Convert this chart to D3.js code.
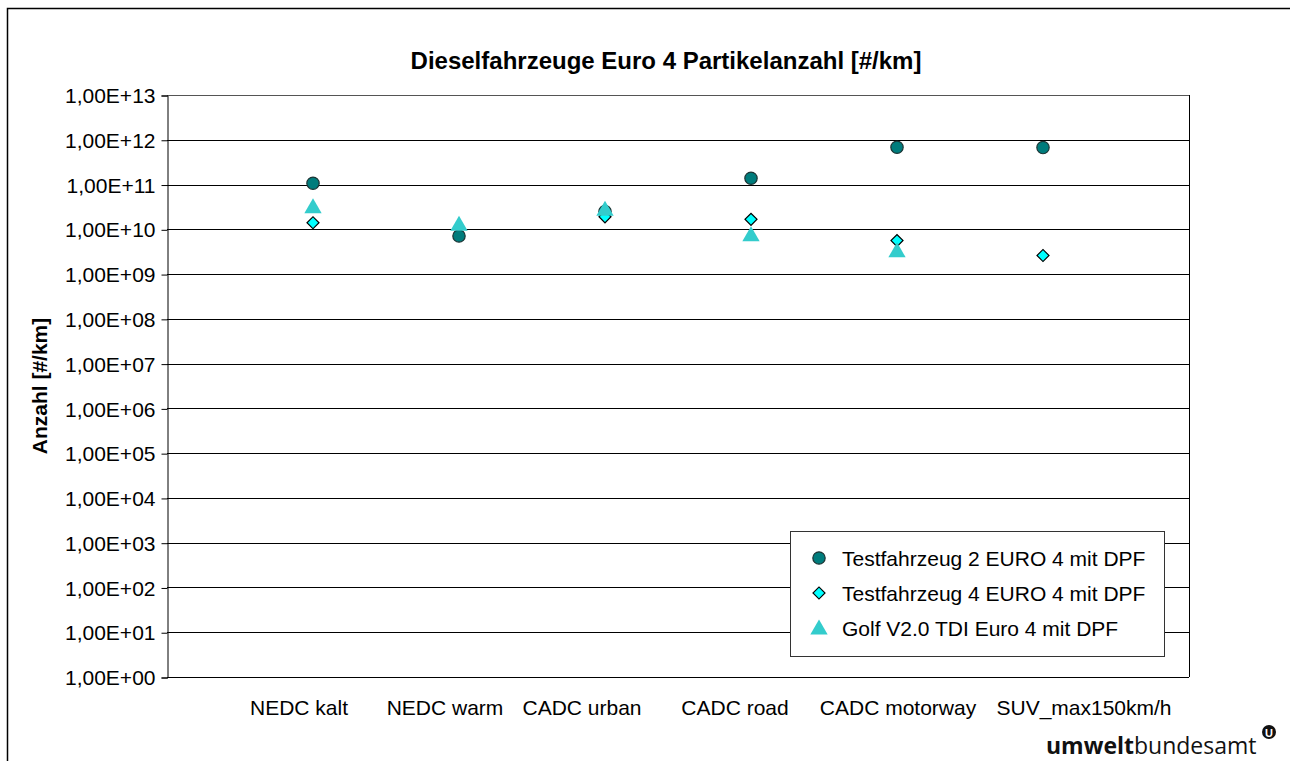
<!DOCTYPE html>
<html>
<head>
<meta charset="utf-8">
<script src="https://cdn.jsdelivr.net/npm/d3@7"></script>
<style>
  body { margin: 0; background: #fff; }
  svg { display: block; font-family: Arial, "Liberation Sans", sans-serif; }
</style>
</head>
<body>
<div id="chart"></div>
<script>
// data
const categories = ['NEDC kalt', 'NEDC warm', 'CADC urban', 'CADC road', 'CADC motorway', 'SUV_max150km/h'];
const seriesNames = ['Testfahrzeug 2 EURO 4 mit DPF', 'Testfahrzeug 4 EURO 4 mit DPF', 'Golf V2.0 TDI Euro 4 mit DPF'];
const testfahrzeug2 = [1.07e11, 7.1e9, 2.5e10, 1.38e11, 6.8e11, 6.7e11];
const testfahrzeug4 = [1.4e10, null, 1.9e10, 1.67e10, 5.6e9, 2.6e9];
const golfV20 = [3.2e10, 1.3e10, 2.8e10, 7.6e9, 3.3e9, null];
const yTicks = [1e0, 1e1, 1e2, 1e3, 1e4, 1e5, 1e6, 1e7, 1e8, 1e9, 1e10, 1e11, 1e12, 1e13];

// label nudges (Excel spreads the category labels unevenly)
const catLabelDx = [-14, -14, -23, -16, 1, 41];

const width = 1290, height = 761;
const margin = {top: 95, right: 101, bottom: 84, left: 167};

const svg = d3.select('#chart').append('svg')
  .attr('width', width)
  .attr('height', height);

// outer frame
svg.append('rect')
  .attr('x', 7.5).attr('y', 8.5)
  .attr('width', 1300).attr('height', 800)
  .attr('fill', 'none')
  .attr('stroke', '#000')
  .attr('stroke-width', 1.5);

const x = d3.scalePoint()
  .domain(categories)
  .range([margin.left, width - margin.right])
  .padding(1);

const y = d3.scaleLog()
  .domain([1, 1e13])
  .range([height - margin.bottom, margin.top]);

// grid lines
svg.append('g')
  .selectAll('line')
  .data(yTicks)
  .enter().append('line')
  .attr('x1', margin.left)
  .attr('x2', width - margin.right)
  .attr('y1', d => Math.round(y(d)) + 0.5)
  .attr('y2', d => Math.round(y(d)) + 0.5)
  .attr('stroke', (d, i) => i == yTicks.length - 1 ? '#555' : '#000')
  .attr('stroke-width', 1);

// plot frame sides
svg.append('line')
  .attr('x1', width - margin.right + 0.5).attr('x2', width - margin.right + 0.5)
  .attr('y1', margin.top).attr('y2', height - margin.bottom)
  .attr('stroke', '#000');

const fmt = d => '1,00E+' + String(Math.round(Math.log10(d))).padStart(2, '0');

const yAxis = d3.axisLeft(y)
  .tickValues(yTicks)
  .tickFormat(fmt)
  .tickSizeOuter(0)
  .tickSize(6)
  .tickPadding(6);

svg.append('g')
  .attr('class', 'y axis')
  .attr('transform', 'translate(' + (margin.left + 0.5) + ',0.5)')
  .call(yAxis)
  .call(g => g.select('.domain').attr('stroke', '#000'))
  .call(g => g.selectAll('text')
    .attr('fill', '#000')
    .style('font-size', '21px')
    .attr('dy', '0.34em'));

// category labels
svg.append('g')
  .selectAll('text')
  .data(categories)
  .enter().append('text')
  .attr('x', (d, i) => x(d) + catLabelDx[i])
  .attr('y', 715)
  .attr('text-anchor', 'middle')
  .style('font-size', '21px')
  .text(d => d);

// title
svg.append('text')
  .attr('x', 666)
  .attr('y', 69)
  .attr('text-anchor', 'middle')
  .style('font-size', '24px')
  .style('font-weight', 'bold')
  .text('Dieselfahrzeuge Euro 4 Partikelanzahl [#/km]');

svg.append('text')
  .attr('transform', 'translate(47,386) rotate(-90)')
  .attr('text-anchor', 'middle')
  .style('font-size', '21px')
  .style('font-weight', 'bold')
  .text('Anzahl [#/km]');

// markers
const circleSym = d3.symbol().type(d3.symbolCircle).size(120);
const diamondSym = d3.symbol().type(d3.symbolSquare).size(72);
const triangleSym = d3.symbol().type(d3.symbolTriangle).size(130);

const styles = [
  {sym: circleSym, fill: '#007c7c', stroke: '#1c3434', sw: 1.2, rot: 0, dy: 0},
  {sym: diamondSym, fill: '#00ffff', stroke: '#000', sw: 1.2, rot: 45, dy: 0},
  {sym: triangleSym, fill: '#33cccc', stroke: 'none', sw: 0, rot: 0, dy: 1.5}
];
const allSeries = [testfahrzeug2, testfahrzeug4, golfV20];

allSeries.forEach((vals, si) => {
  const st = styles[si];
  svg.append('g')
    .selectAll('path')
    .data(vals.map((v, i) => ({cat: categories[i], v: v})).filter(d => d.v != null))
    .enter().append('path')
    .attr('d', st.sym())
    .attr('transform', d => 'translate(' + x(d.cat) + ',' + (y(d.v) + st.dy) + ') rotate(' + st.rot + ')')
    .attr('fill', st.fill)
    .attr('stroke', st.stroke)
    .attr('stroke-width', st.sw);
});

// legend
const legend = svg.append('g').attr('transform', 'translate(790,531)');
legend.append('rect')
  .attr('x', 0.5).attr('y', 0.5)
  .attr('width', 374).attr('height', 125)
  .attr('fill', '#fff')
  .attr('stroke', '#333')
  .attr('stroke-width', 1);

const rows = legend.selectAll('.row')
  .data(seriesNames)
  .enter().append('g')
  .attr('class', 'row')
  .attr('transform', (d, i) => 'translate(29,' + (27 + i * 35) + ')');

rows.append('path')
  .attr('d', (d, i) => styles[i].sym())
  .attr('transform', (d, i) => 'translate(0,' + styles[i].dy + ') rotate(' + styles[i].rot + ')')
  .attr('fill', (d, i) => styles[i].fill)
  .attr('stroke', (d, i) => styles[i].stroke)
  .attr('stroke-width', (d, i) => styles[i].sw);

rows.append('text')
  .attr('x', 23)
  .attr('dy', '0.36em')
  .style('font-size', '21px')
  .text(d => d);

// logo
const logo = svg.append('text')
  .attr('x', 1046)
  .attr('y', 754)
  .style('font-family', '"Open Sans", "DejaVu Sans", sans-serif')
  .style('font-size', '23px')
  .attr('fill', '#111');
logo.append('tspan').style('font-weight', 'bold').text('umwelt');
logo.append('tspan').text('bundesamt');

svg.append('circle')
  .attr('cx', 1269).attr('cy', 732).attr('r', 7)
  .attr('fill', '#111');
svg.append('text')
  .attr('x', 1269).attr('y', 737)
  .attr('text-anchor', 'middle')
  .style('font-size', '11px')
  .style('font-weight', 'bold')
  .attr('fill', '#fff')
  .text('U');
</script>
</body>
</html>
